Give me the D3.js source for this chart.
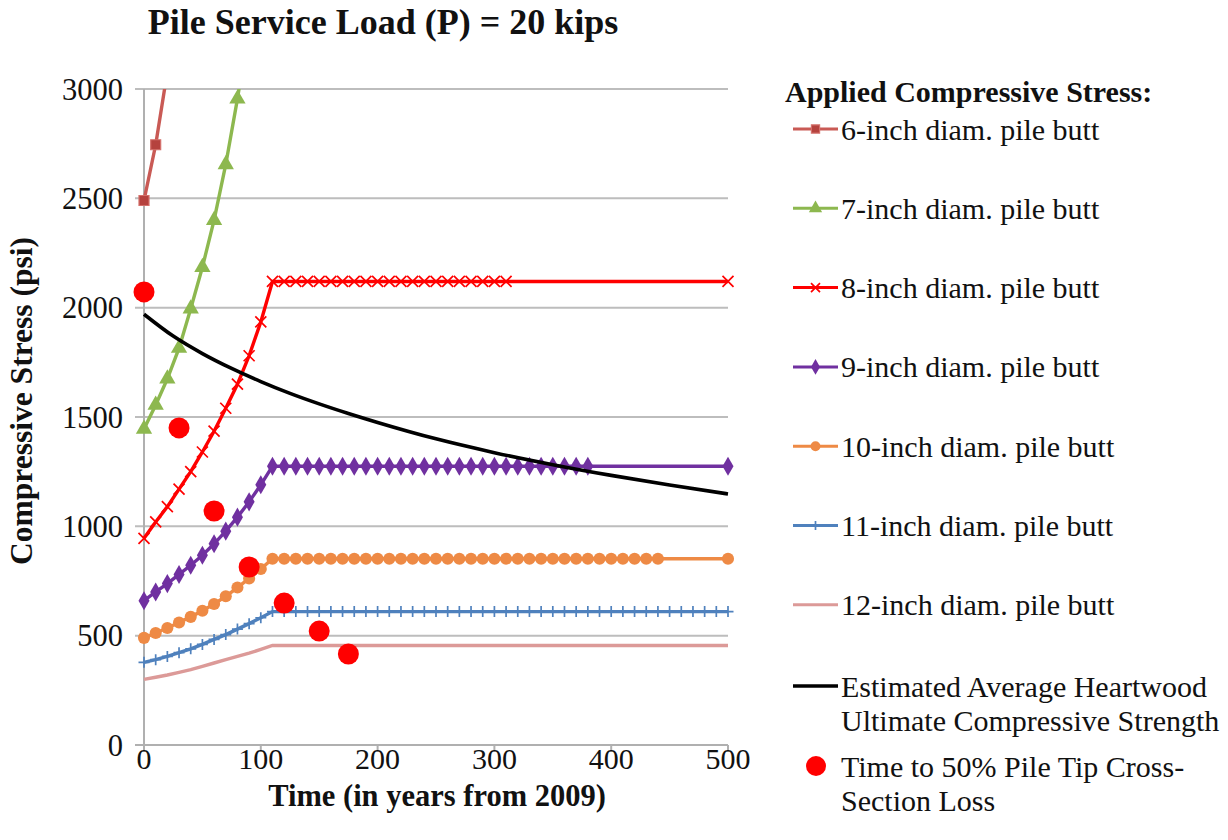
<!DOCTYPE html>
<html>
<head>
<meta charset="utf-8">
<script src="https://cdn.jsdelivr.net/npm/d3@7"></script>
<style>
  body { margin: 0; background: #fff; }
  text { font-family: "Liberation Serif", "Times New Roman", Times, serif; fill: #111; }
</style>
</head>
<body>
<script>
// years for the rising part of every pile curve
const riseYears = [0, 10, 20, 30, 40, 50, 60, 70, 80, 90, 100, 110]

// applied compressive stress (psi)
const s6 = [2490, 2745, 3080]
const s7 = [1445, 1555, 1675, 1815, 1995, 2185, 2400, 2655, 2955, 3290]
const s8 = [945, 1020, 1090, 1170, 1250, 1340, 1435, 1540, 1650, 1780, 1935, 2120]
const s9 = [660, 700, 738, 780, 822, 868, 920, 978, 1042, 1112, 1190, 1275]
const s10 = [490, 512, 535, 560, 586, 614, 645, 680, 720, 762, 805, 852]
const s11 = [378, 390, 405, 422, 440, 460, 483, 505, 530, 555, 582, 610]
const s12 = [300, 310, 320, 332, 345, 360, 375, 390, 405, 420, 437, 455]
// last year of the 10-year rows in the flat part (then one point at 500)
const flatEnd = [0, 0, 310, 380, 440, 500, 500]

// heartwood strength curve
const hwYears = [0, 25, 50, 75, 100, 125, 150, 175, 200, 250, 300, 350, 400, 450, 500]
const hwStrength = [1970, 1870, 1790, 1722, 1662, 1608, 1560, 1516, 1475, 1400, 1337, 1282, 1233, 1189, 1148]

// time to 50% pile tip cross-section loss
const lossYears = [0, 30, 60, 90, 120, 150, 175]
const lossStress = [2072, 1450, 1070, 814, 649, 521, 416]

const labels = ['6-inch diam. pile butt', '7-inch diam. pile butt', '8-inch diam. pile butt',
  '9-inch diam. pile butt', '10-inch diam. pile butt', '11-inch diam. pile butt', '12-inch diam. pile butt']
const colors = ['#C95A55', '#8DB84F', '#FF0000', '#7030A0', '#EE8A45', '#4F81BD', '#DC9A98']
const markerKind = ['square', 'triangle', 'x', 'diamond', 'circle', 'plus', 'none']
const yTicks = [0, 500, 1000, 1500, 2000, 2500, 3000]
const xTicks = [0, 100, 200, 300, 400, 500]

const W = 1228, H = 840
const svg = d3.select('body').append('svg').attr('width', W).attr('height', H)

const x = d3.scaleLinear().domain([0, 500]).range([144, 728])
const y = d3.scaleLinear().domain([0, 3000]).range([745, 89])

// build points for each pile series (10-year rows)
const allRise = [s6, s7, s8, s9, s10, s11, s12]
const series = allRise.map(function(vals, i) {
  const pts = vals.map(function(v, j) { return {t: j * 10, v: v} })
  if (i >= 2) {
    const flat = vals[vals.length - 1]
    for (let t = 120; t <= flatEnd[i]; t += 10) pts.push({t: t, v: flat})
    if (flatEnd[i] < 500 || i === 6) pts.push({t: 500, v: flat})
  }
  return pts
})

// gridlines
svg.append('g').selectAll('line').data(yTicks.filter(d => d > 0)).enter().append('line')
  .attr('x1', 135).attr('x2', x(500))
  .attr('y1', d => y(d)).attr('y2', d => y(d))
  .attr('stroke', '#BDBDBD').attr('stroke-width', 2)

// axes lines
svg.append('line').attr('x1', x(0)).attr('x2', x(0)).attr('y1', y(3000)).attr('y2', y(0) + 7)
  .attr('stroke', '#B0B0B0').attr('stroke-width', 2)
svg.append('line').attr('x1', 135).attr('x2', x(500)).attr('y1', y(0)).attr('y2', y(0))
  .attr('stroke', '#B0B0B0').attr('stroke-width', 2)
svg.append('g').selectAll('line').data(xTicks).enter().append('line')
  .attr('x1', d => x(d)).attr('x2', d => x(d)).attr('y1', y(0)).attr('y2', y(0) + 7)
  .attr('stroke', '#B0B0B0').attr('stroke-width', 2)

// tick labels
svg.append('g').selectAll('text').data(yTicks).enter().append('text')
  .attr('x', 123).attr('y', d => y(d)).attr('dy', '0.35em')
  .attr('text-anchor', 'end').style('font-size', '30.5px')
  .text(d => d)
svg.append('g').selectAll('text').data(xTicks).enter().append('text')
  .attr('x', d => x(d)).attr('y', 769)
  .attr('text-anchor', 'middle').style('font-size', '30px')
  .text(d => d)

// axis titles and chart title
svg.append('text').attr('x', 383).attr('y', 34).attr('text-anchor', 'middle')
  .style('font-size', '36px').style('font-weight', 'bold')
  .text('Pile Service Load (P) = 20 kips')
svg.append('text').attr('x', 437).attr('y', 806).attr('text-anchor', 'middle')
  .style('font-size', '30.5px').style('font-weight', 'bold')
  .text('Time (in years from 2009)')
svg.append('text').attr('transform', 'translate(32,401) rotate(-90)').attr('text-anchor', 'middle')
  .style('font-size', '31.5px').style('font-weight', 'bold')
  .text('Compressive Stress (psi)')

// clip for lines going over 3000
svg.append('clipPath').attr('id', 'plotclip').append('rect')
  .attr('x', 100).attr('y', y(3000)).attr('width', 700).attr('height', 700)

const line = d3.line().x(d => x(d.t)).y(d => y(d.v))
const plot = svg.append('g')

function drawMarker(g, kind, color, cx, cy, s) {
  if (kind === 'none') return
  if (kind === 'x') {
    g.append('path').attr('d', `M${cx - s},${cy - s}L${cx + s},${cy + s}M${cx - s},${cy + s}L${cx + s},${cy - s}`)
      .attr('stroke', color).attr('stroke-width', 1.7).attr('fill', 'none')
  } else if (kind === 'plus') {
    g.append('path').attr('d', `M${cx - s},${cy}L${cx + s},${cy}M${cx},${cy - s}L${cx},${cy + s}`)
      .attr('stroke', color).attr('stroke-width', 1.7).attr('fill', 'none')
  } else {
    const type = {square: d3.symbolSquare, triangle: d3.symbolTriangle, diamond: d3.symbolDiamond, circle: d3.symbolCircle}[kind]
    const k = s / 5.5
    const size = {square: 100, triangle: 115, diamond: 105, circle: 115}[kind] * k * k
    g.append('path').attr('d', d3.symbol().type(type).size(size)())
      .attr('transform', `translate(${cx},${cy})`)
      .attr('fill', kind === 'square' ? '#B5423E' : color)
      .attr('stroke', kind === 'square' ? '#D4706B' : 'none')
      .attr('stroke-width', 1.2)
  }
}

series.forEach(function(pts, i) {
  plot.append('path').datum(pts).attr('d', line)
    .attr('fill', 'none').attr('stroke', colors[i]).attr('stroke-width', 3.4)
    .attr('clip-path', 'url(#plotclip)')
  const mg = plot.append('g')
  pts.filter(p => p.v <= 3000).forEach(function(p) {
    drawMarker(mg, markerKind[i], colors[i], x(p.t), y(p.v), 5.5)
  })
})

// heartwood strength
const hw = hwYears.map((t, i) => ({t: t, v: hwStrength[i]}))
plot.append('path').datum(hw).attr('d', line.curve(d3.curveMonotoneX))
  .attr('fill', 'none').attr('stroke', '#000').attr('stroke-width', 3.6)

// loss points
plot.append('g').selectAll('circle').data(lossYears).enter().append('circle')
  .attr('cx', d => x(d)).attr('cy', (d, i) => y(lossStress[i])).attr('r', 10.5)
  .attr('fill', '#FF0000')

// legend
const lg = svg.append('g')
lg.append('text').attr('x', 785).attr('y', 102)
  .style('font-size', '30px').style('font-weight', 'bold')
  .text('Applied Compressive Stress:')
labels.forEach(function(lab, i) {
  const cy = 129 + i * 79.3
  lg.append('line').attr('x1', 793).attr('x2', 838).attr('y1', cy).attr('y2', cy)
    .attr('stroke', colors[i]).attr('stroke-width', 3)
  drawMarker(lg, markerKind[i], colors[i], 815.5, cy, 4.5)
  lg.append('text').attr('x', 841).attr('y', cy).attr('dy', '0.35em')
    .style('font-size', '30px').text(lab)
})
lg.append('line').attr('x1', 793).attr('x2', 838).attr('y1', 686).attr('y2', 686)
  .attr('stroke', '#000').attr('stroke-width', 3.5)
lg.append('text').attr('x', 841).attr('y', 686).attr('dy', '0.35em').style('font-size', '30px')
  .text('Estimated Average Heartwood')
lg.append('text').attr('x', 841).attr('y', 720).attr('dy', '0.35em').style('font-size', '30px')
  .text('Ultimate Compressive Strength')
lg.append('circle').attr('cx', 816).attr('cy', 766).attr('r', 10).attr('fill', '#FF0000')
lg.append('text').attr('x', 841).attr('y', 766).attr('dy', '0.35em').style('font-size', '30px')
  .text('Time to 50% Pile Tip Cross-')
lg.append('text').attr('x', 841).attr('y', 800).attr('dy', '0.35em').style('font-size', '30px')
  .text('Section Loss')
</script>
</body>
</html>
